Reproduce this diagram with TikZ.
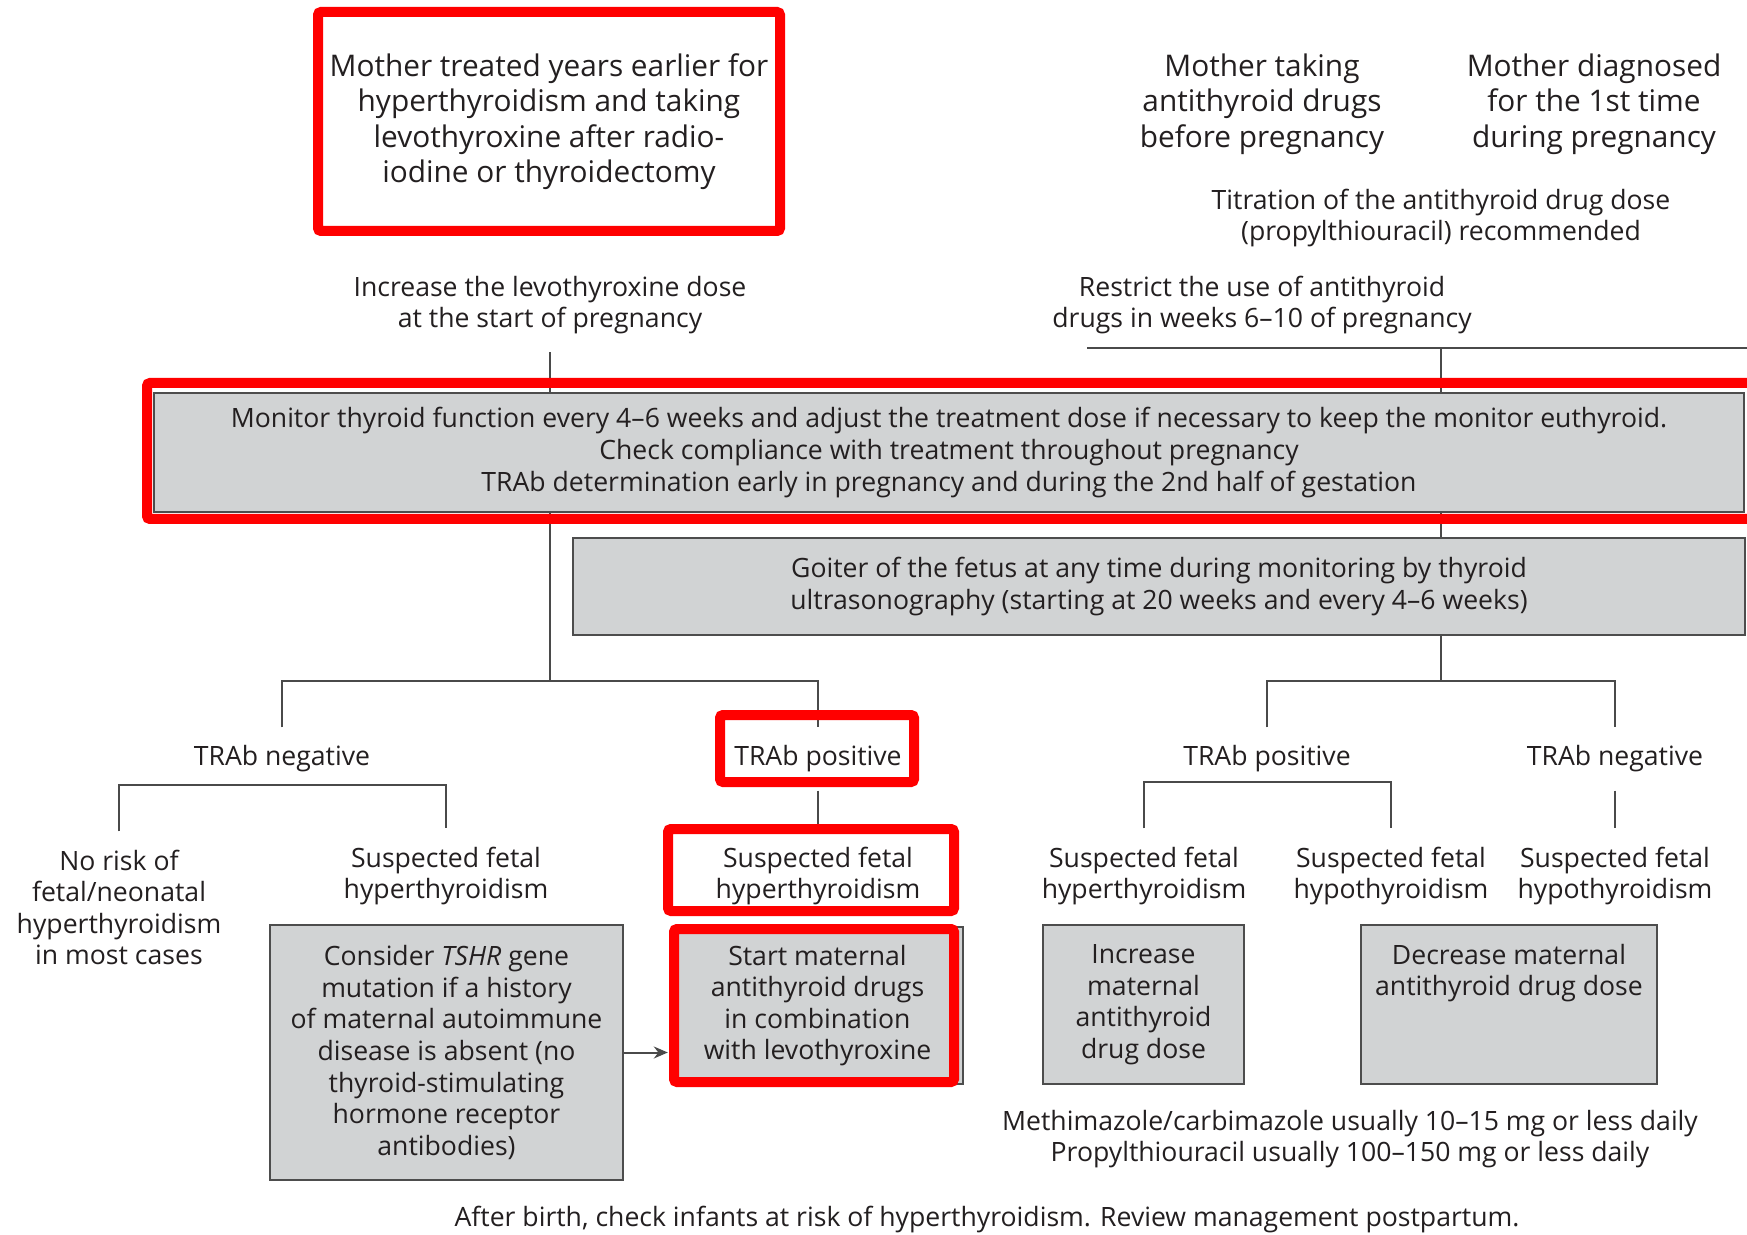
\documentclass[tikz,border=0pt]{standalone}
\usepackage{fontspec}
\setmainfont{Open Sans}
\usetikzlibrary{backgrounds,arrows.meta}
\definecolor{boxgray}{HTML}{D1D3D4}
\definecolor{boxline}{HTML}{4D4D4D}
\definecolor{ink}{HTML}{231F20}
\definecolor{lineg}{HTML}{4A4A4A}

\begin{document}
\begin{tikzpicture}[x=0.5pt,y=-0.5pt,font=\fontsize{13.3}{15.8}\selectfont,text=ink,
  txt/.style={align=center,inner sep=0pt},
  lab/.style={align=center,inner xsep=0pt,inner ysep=9pt},
  big/.style={font=\fontsize{14.9}{17.75}\selectfont},
  gbox/.style={draw=boxline,fill=boxgray,line width=1.2pt,align=center,inner sep=0pt},
  hl/.style={draw=red,line width=5pt,rounded corners=1.5pt},
  con/.style={draw=lineg,line width=1pt}]
\useasboundingbox (0,0) rectangle (1747,1235);

% sources
\node[txt,big,hl,minimum width=231pt,minimum height=109.5pt] (mt) at (549,121.5)
  {Mother treated years earlier for\\hyperthyroidism and taking\\levothyroxine after radio-\\iodine or thyroidectomy};
\node[txt,big] (mtk) at (1262,104) {Mother taking\\antithyroid drugs\\before pregnancy};
\node[txt,big] (mdg) at (1594,104) {Mother diagnosed\\for the 1st time\\during pregnancy};
\node[txt] (tit) at (1441,218) {Titration of the antithyroid drug dose\\(propylthiouracil) recommended};
\node[lab] (inc) at (550,305) {Increase the levothyroxine dose\\at the start of pregnancy};
\node[txt] (res) at (1262,305) {Restrict the use of antithyroid\\drugs in weeks 6--10 of pregnancy};

% monitoring
\node[gbox,minimum width=795pt,minimum height=59.5pt] (mon) at (949,452.5)
  {Monitor thyroid function every 4--6 weeks and adjust the treatment dose if necessary to keep the monitor euthyroid.\\
   Check compliance with treatment throughout pregnancy\\
   TRAb determination early in pregnancy and during the 2nd half of gestation};
\node[gbox,minimum width=586pt,minimum height=48.5pt] (goi) at (1159,586.5)
  {Goiter of the fetus at any time during monitoring by thyroid\\ultrasonography (starting at 20 weeks and every 4--6 weeks)};

% TRAb
\node[lab] (negL) at (282,759) {TRAb negative};
\node[lab] (posM) at (818,759) {TRAb positive};
\node[lab] (posR) at (1267,759) {TRAb positive};
\node[lab] (negR) at (1615,759) {TRAb negative};

\node[lab] (nr) at (119,907.5) {No risk of\\fetal/neonatal\\hyperthyroidism\\in most cases};
\node[lab] (sfL) at (446,876) {Suspected fetal\\hyperthyroidism};
\node[lab] (sfM) at (818,876) {Suspected fetal\\hyperthyroidism};
\node[lab] (sfR1) at (1144,876) {Suspected fetal\\hyperthyroidism};
\node[lab] (sfR2) at (1391,876) {Suspected fetal\\hypothyroidism};
\node[lab] (sfR3) at (1615,876) {Suspected fetal\\hypothyroidism};

% treatment
\node[gbox,minimum width=176.5pt,minimum height=127.5pt] (tshr) at (446.5,1052.5)
  {Consider \textit{TSHR} gene\\mutation if a history\\of maternal autoimmune\\disease is absent (no\\thyroid-stimulating\\hormone receptor\\antibodies)};
\node[gbox,minimum width=145.5pt,minimum height=78.5pt] (smt) at (817.5,1005.5)
  {Start maternal\\antithyroid drugs\\in combination\\with levothyroxine};
\node[gbox,minimum width=100.5pt,minimum height=79.5pt] (imd) at (1143.5,1004.5)
  {Increase\\maternal\\antithyroid\\drug dose};
\node[gbox,minimum width=148pt,minimum height=79.5pt] (dmd) at (1509,1004.5) {};
\node[txt] (dmdt) at (1509,973) {Decrease maternal\\antithyroid drug dose};

\node[txt] (meth) at (1350,1139) {Methimazole/carbimazole usually 10--15 mg or less daily\\Propylthiouracil usually 100--150 mg or less daily};
\node[txt] (aft) at (987,1220) {After birth, check infants at risk of hyperthyroidism. Review management postpartum.};

\coordinate (jL) at (550,681);
\coordinate (jR) at (1441,681);
\coordinate (jT) at (1441,348);
\coordinate (hL) at (1087,348);
\coordinate (hR) at (1760,348);

\begin{scope}[on background layer]
\fill[white] (0,0) rectangle (1747,1235);
\draw[con] (inc) -- (jL);
\draw[con] (negL) |- (jL) -| (posM);
\draw[con] (hL) -- (hR);
\draw[con] (jT) -- (jT |- goi.north);
\draw[con] (goi.south -| jR) -- (jR);
\draw[con] (posR) |- (jR) -| (negR);
\draw[con] (nr.north) -- ++(0,-46) -| (sfL.north);
\draw[con] (posM) -- (sfM);
\draw[con] (sfR1.north) -- ++(0,-46) -| (sfR2.north);
\draw[con] (negR) -- (sfR3);
\end{scope}
\draw[con,-{Stealth[length=7pt,width=6pt]},shorten >=1.5pt] (tshr.east) -- (tshr.east -| smt.west);

% highlights
\draw[hl] (147,383) rectangle (1760,519);
\draw[hl] (720,715) rectangle (914,782);
\draw[hl] (668,829) rectangle (954,911);
\draw[hl] (674,929) rectangle (954,1082);
\end{tikzpicture}
\end{document}
